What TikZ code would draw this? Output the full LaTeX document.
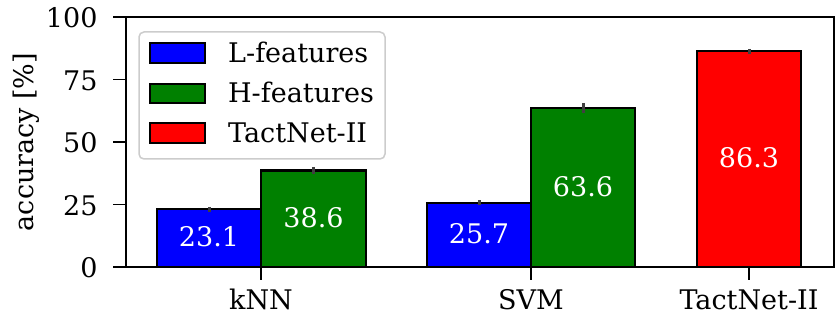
\documentclass[tikz,border=0pt]{standalone}
\usepackage{fontspec}
\setmainfont{DejaVu Serif}
\definecolor{lblue}{RGB}{0,0,255}
\definecolor{hgreen}{RGB}{0,128,0}
\definecolor{tred}{RGB}{255,0,0}
\definecolor{errgray}{RGB}{64,64,64}
\begin{document}
\begin{tikzpicture}[x=1pt,y=-1pt,
  font=\fontsize{27}{32}\selectfont,
  bar/.style={draw=black,line width=2.2pt},
  errbar/.style={draw=errgray,line width=3pt},
  tickline/.style={draw=black,line width=1.6pt},
  ticklab/.style={anchor=base east},
  xlab/.style={anchor=base},
  vallab/.style={text=white,anchor=center,inner sep=0pt},
  legpatch/.style={draw=black,line width=2.4pt},
  legtext/.style={anchor=base west,inner sep=0pt}]
\useasboundingbox (0,0) rectangle (839,320);

% bars: value v drawn up to y = 267 - 2.5 v
\draw[bar,fill=lblue]  (157,267) rectangle (261,209.25);
\draw[bar,fill=hgreen] (261,267) rectangle (366,170.5);
\draw[bar,fill=lblue]  (427,267) rectangle (531,202.75);
\draw[bar,fill=hgreen] (531,267) rectangle (635,108);
\draw[bar,fill=tred]   (697,267) rectangle (801,51.25);

% error bars
\draw[errbar] (209,207) -- (209,212);
\draw[errbar] (313.5,167) -- (313.5,174);
\draw[errbar] (479,200.5) -- (479,205);
\draw[errbar] (583,103) -- (583,113);
\draw[errbar] (749,49) -- (749,54);

% value labels
\node[vallab] (v1) at (209,237)     {23.1};
\node[vallab] (v2) at (313.5,218)   {38.6};
\node[vallab] (v3) at (479,233.5)   {25.7};
\node[vallab] (v4) at (583,187)     {63.6};
\node[vallab] (v5) at (749,158)     {86.3};

% axes frame
\draw[tickline] (126,17) rectangle (834,267);

% y ticks and labels
\foreach \v/\yy in {0/267,25/204.5,50/142,75/79.5,100/17}{
  \draw[tickline] (113,\yy) -- (126,\yy);
  \node[ticklab] (yt\v) at (101,\yy+10.8) {\v};
}
% x ticks and labels
\foreach \n/\xx/\t in {knn/261/kNN,svm/531/SVM,tact/749/TactNet-II}{
  \draw[tickline] (\xx,267) -- (\xx,280);
  \node[xlab] (xt\n) at (\xx,310) {\t};
}
\node[rotate=90,anchor=base] (ylab) at (33,142) {accuracy [\%]};

% legend
\draw[draw=black!20,line width=1.5pt,fill=white,fill opacity=0.8,rounded corners=5pt]
  (139,32) rectangle (385,159);
\draw[legpatch,fill=lblue]  (150,43)  rectangle (205,63);
\draw[legpatch,fill=hgreen] (150,84)  rectangle (205,103);
\draw[legpatch,fill=tred]   (150,123) rectangle (205,143);
\node[legtext] (l1) at (228,63)  {L-features};
\node[legtext] (l2) at (228,103) {H-features};
\node[legtext] (l3) at (228,143) {TactNet-II};
\end{tikzpicture}
\end{document}
